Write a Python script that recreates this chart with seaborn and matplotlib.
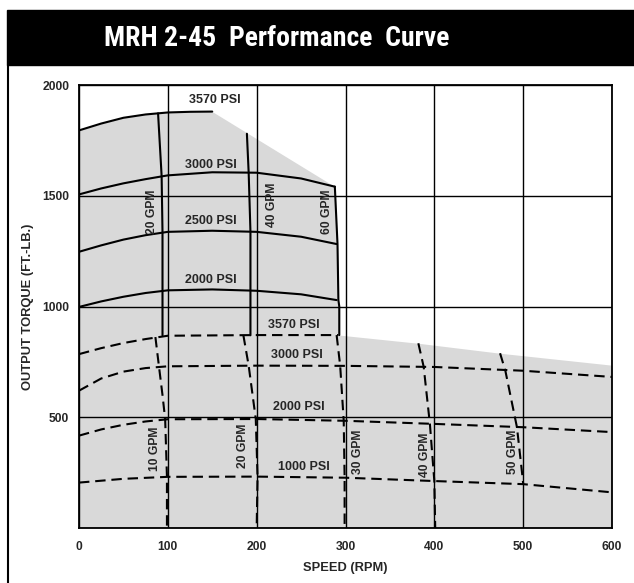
import matplotlib
matplotlib.use('Agg')
import seaborn as sns
from matplotlib import pyplot as plt
from matplotlib import font_manager
from matplotlib.patches import Rectangle
from matplotlib.lines import Line2D

## ---- values ----
speed_ticks = [0, 100, 200, 300, 400, 500, 600]
torque_ticks = [0, 500, 1000, 1500, 2000]
torque_ticklabels = ['', '500', '1000', '1500', '2000']

## solid pressure curves (upper region)
s3570_x = [0, 25, 50, 75, 100, 125, 150]
s3570_y = [1795, 1826, 1852, 1867, 1876, 1879, 1880]
s3000_x = [0, 25, 50, 75, 100, 150, 200, 250, 288]
s3000_y = [1506, 1533, 1556, 1575, 1592, 1606, 1604, 1578, 1541]
s2500_x = [0, 25, 50, 75, 100, 150, 200, 250, 290]
s2500_y = [1247, 1276, 1302, 1322, 1337, 1342, 1337, 1315, 1282]
s2000_x = [0, 25, 50, 75, 100, 150, 200, 250, 290]
s2000_y = [998, 1023, 1044, 1061, 1073, 1077, 1071, 1055, 1029]

## solid flow lines (upper region)
g20_x = [89, 93, 94, 94, 94]
g20_y = [1872, 1590, 1335, 1000, 870]
g40_x = [189, 191, 193, 193, 193]
g40_y = [1780, 1604, 1338, 1000, 870]
g60_x = [288, 291, 292, 293, 293]
g60_y = [1541, 1282, 1029, 1000, 871]

## dashed pressure curves (lower region)
d3570_x = [0, 25, 50, 75, 100, 200, 292]
d3570_y = [785, 812, 835, 853, 868, 871, 871]
d3000_x = [0, 25, 50, 75, 100, 200, 300, 400, 500, 600]
d3000_y = [620, 675, 706, 722, 730, 733, 732, 727, 710, 682]
d2000_x = [0, 25, 50, 75, 100, 200, 300, 400, 500, 600]
d2000_y = [417, 445, 466, 481, 491, 492, 484, 470, 455, 433]
d1000_x = [0, 50, 100, 200, 300, 400, 500, 600]
d1000_y = [205, 222, 231, 232, 227, 212, 198, 161]

## dashed flow lines (lower region)
f10_x = [86, 90, 94, 97, 99, 99]
f10_y = [862, 730, 600, 491, 232, 0]
f20_x = [185, 191, 199, 201, 200]
f20_y = [871, 733, 492, 232, 0]
f30_x = [290, 294, 298, 299, 299]
f30_y = [871, 733, 484, 227, 0]
f40_x = [382, 388, 395, 400, 401]
f40_y = [834, 728, 470, 212, 0]
f50_x = [474, 480, 493, 499, 500]
f50_y = [789, 709, 455, 240, 199]

## upper edge of the shaded operating area
edge_x = s3570_x + [288, 291, 292, 293, 382, 474, 600]
edge_y = s3570_y + [1541, 1282, 1029, 871, 834, 789, 735]

sns.set_style('white')
names = {f.name for f in font_manager.fontManager.ttflist}
font = 'Liberation Sans' if 'Liberation Sans' in names else 'DejaVu Sans'
title_font = next((n for n in ['Liberation Sans Narrow', 'Roboto Condensed',
                               'Open Sans Condensed'] if n in names), font)
plt.rcParams['font.family'] = [font, 'DejaVu Sans']
plt.rcParams['font.weight'] = 'bold'

fig = plt.figure(figsize=(6.34, 5.83), dpi=100)
ax = fig.add_axes([79/634, 55/583, 533/634, 443/583])

## banner and frame
fig.patches.append(Rectangle((7/634, 518/583), 1 - 7/634, 55/583,
                             transform=fig.transFigure, color='black', zorder=0))
fig.lines.append(Line2D([8/634, 8/634], [0, 518/583], transform=fig.transFigure,
                        color='black', lw=1.5))
fig.text(277/634, 0.934, 'MRH 2-45  Performance  Curve', color='white',
         family=[title_font, 'DejaVu Sans'], fontweight='bold', fontsize=20,
         ha='center', va='center')

ax.fill_between(edge_x, edge_y, 0, color='#d9d9d9', lw=0, zorder=1)

solid = [(s3570_x, s3570_y), (s3000_x, s3000_y), (s2500_x, s2500_y),
         (s2000_x, s2000_y), (g20_x, g20_y), (g40_x, g40_y), (g60_x, g60_y)]
dashed = [(d3570_x, d3570_y), (d3000_x, d3000_y), (d2000_x, d2000_y),
          (d1000_x, d1000_y), (f10_x, f10_y), (f20_x, f20_y), (f30_x, f30_y),
          (f40_x, f40_y), (f50_x, f50_y)]
for xs, ys in solid:
    sns.lineplot(x=xs, y=ys, ax=ax, color='black', lw=1.5, sort=False,
                 estimator=None, zorder=4)
for xs, ys in dashed:
    sns.lineplot(x=xs, y=ys, ax=ax, color='black', lw=1.5, sort=False,
                 estimator=None, linestyle=(0, (5, 2.8)), zorder=4)

## curve labels
kw = dict(ha='center', va='center', fontweight='bold', zorder=5)
for txt, x, y in [('3570 PSI', 153, 1932), ('3000 PSI', 148, 1639),
                  ('2500 PSI', 148, 1386), ('2000 PSI', 148, 1120),
                  ('3570 PSI', 242, 917), ('3000 PSI', 245, 781),
                  ('2000 PSI', 247, 548), ('1000 PSI', 253, 277)]:
    ax.text(x, y, txt, fontsize=9, **kw)
for txt, x, y in [('20 GPM', 82, 1427), ('40 GPM', 217, 1458), ('60 GPM', 279, 1427),
                  ('10 GPM', 86, 357), ('20 GPM', 185, 370), ('30 GPM', 314, 343),
                  ('40 GPM', 390, 330), ('50 GPM', 489, 343)]:
    ax.text(x, y, txt, rotation=90, fontsize=8.7, **kw)

ax.set_xlim(0, 600)
ax.set_ylim(0, 2000)
ax.set_xticks(speed_ticks)
ax.set_yticks(torque_ticks)
ax.set_yticklabels(torque_ticklabels)
ax.grid(True, color='black', lw=1.0)
ax.set_axisbelow(False)
for sp in ax.spines.values():
    sp.set_color('black')
    sp.set_linewidth(1.3)
ax.tick_params(length=0, labelsize=8.7, pad=7)
ax.tick_params(axis='x', pad=9)
for lab in ax.get_xticklabels() + ax.get_yticklabels():
    lab.set_fontweight('bold')
ax.set_xlabel('SPEED (RPM)', fontsize=9.3, fontweight='bold', labelpad=7)
ax.set_ylabel('OUTPUT TORQUE (FT.-LB.)', fontsize=9.3, fontweight='bold', labelpad=6)

fig.savefig('out.png', dpi=100)
